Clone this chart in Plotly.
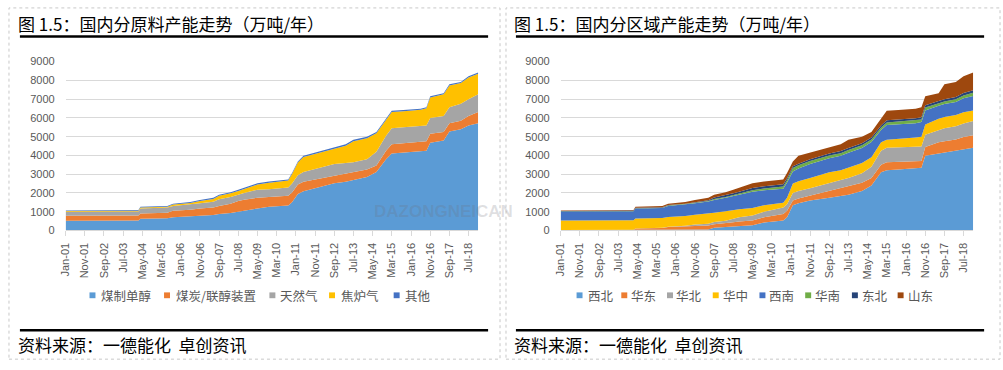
import plotly.graph_objects as go

W, H = 1003, 370

# ---------------- data ----------------
dates = ["2001-01-01", "2004-03-01", "2004-04-01", "2005-06-01", "2005-09-01", "2006-06-01",
         "2006-11-01", "2007-06-01", "2007-09-01", "2008-03-01", "2008-07-01", "2008-10-01",
         "2009-05-01", "2009-11-01", "2010-09-01", "2010-11-01", "2011-02-01", "2011-05-01",
         "2011-11-01", "2012-09-01", "2013-03-01", "2013-07-01", "2014-02-01", "2014-07-01",
         "2014-12-01", "2015-03-01", "2015-09-01", "2016-06-01", "2016-09-01", "2016-11-01",
         "2017-06-01", "2017-09-01", "2018-03-01", "2018-07-01", "2018-12-01"]

# left chart: by feedstock (万吨/年)
coal_single = [520, 530, 620, 650, 710, 740, 790, 820, 880, 930, 1000, 1080, 1170, 1260, 1330, 1500,
               1950, 2090, 2250, 2520, 2600, 2690, 2850, 3120, 3800, 4100, 4150, 4200, 4250, 4670,
               4800, 5280, 5400, 5600, 5710]
coal_joint = [270, 270, 290, 300, 340, 360, 380, 410, 430, 490, 570, 560, 570, 520, 520, 530,
              500, 510, 470, 430, 430, 430, 400, 350, 450, 500, 500, 500, 500, 480,
              450, 430, 450, 500, 600]
natural_gas = [210, 210, 260, 270, 260, 280, 280, 300, 350, 360, 340, 360, 430, 420, 440, 470,
               500, 520, 560, 600, 570, 520, 550, 730, 800, 850, 850, 850, 850, 850,
               850, 860, 900, 900, 950]
coke_gas = [40, 45, 50, 50, 70, 90, 120, 150, 190, 200, 200, 210, 280, 350, 370, 510,
            670, 800, 800, 810, 920, 1110, 1120, 980, 840, 870, 860, 880, 910, 1090,
            1160, 1160, 1110, 1160, 1100]
others = [30, 35, 40, 30, 50, 50, 50, 60, 60, 60, 60, 60, 70, 60, 60, 60,
          60, 60, 70, 70, 80, 80, 80, 70, 60, 60, 60, 60, 60, 60,
          60, 60, 60, 60, 60]
left_names = ["煤制单醇", "煤炭/联醇装置", "天然气", "焦炉气", "其他"]
left_series = [coal_single, coal_joint, natural_gas, coke_gas, others]
left_colors = ["#5B9BD5", "#ED7D31", "#A5A5A5", "#FFC000", "#4472C4"]

# right chart: by region (万吨/年)
northwest = [20, 20, 20, 20, 20, 30, 40, 50, 150, 180, 220, 250, 280, 420, 530, 700,
             1350, 1450, 1600, 1750, 1830, 1900, 2100, 2400, 3100, 3210, 3250, 3300, 3350, 3980,
             4100, 4160, 4250, 4350, 4410]
east = [0, 5, 80, 110, 160, 190, 210, 220, 180, 200, 220, 230, 250, 280, 350, 350,
        250, 250, 250, 350, 430, 450, 450, 400, 400, 430, 400, 360, 350, 470,
        600, 600, 600, 630, 660]
north = [10, 10, 10, 10, 20, 30, 70, 90, 120, 140, 180, 220, 270, 300, 340, 350,
         400, 400, 400, 450, 430, 450, 500, 600, 750, 770, 770, 780, 780, 650,
         650, 690, 700, 720, 760]
central = [500, 510, 530, 520, 520, 520, 520, 540, 500, 500, 470, 430, 400, 350, 260, 350,
           500, 520, 550, 550, 520, 550, 550, 500, 450, 430, 460, 510, 520, 550,
           600, 600, 600, 600, 570]
southwest = [480, 485, 530, 540, 590, 610, 610, 640, 680, 720, 740, 760, 870, 800, 740, 810,
             650, 680, 750, 750, 770, 800, 800, 820, 650, 780, 780, 770, 780, 750,
             700, 690, 700, 750, 770]
south = [10, 10, 15, 15, 20, 20, 25, 25, 50, 50, 60, 70, 80, 90, 120, 120,
         180, 180, 150, 150, 140, 140, 140, 130, 140, 140, 140, 130, 130, 150,
         140, 140, 150, 150, 170]
northeast = [20, 20, 25, 25, 30, 30, 35, 45, 80, 90, 100, 110, 120, 120, 130, 110,
             90, 80, 100, 100, 120, 110, 110, 100, 110, 120, 120, 130, 130, 130,
             110, 120, 120, 130, 130]
shandong = [30, 30, 50, 60, 70, 90, 110, 130, 150, 160, 180, 200, 250, 250, 250, 280,
            260, 420, 350, 330, 360, 430, 350, 300, 350, 500, 500, 510, 530, 470,
            420, 790, 800, 890, 950]
right_names = ["西北", "华东", "华北", "华中", "西南", "华南", "东北", "山东"]
right_series = [northwest, east, north, central, southwest, south, northeast, shandong]
right_colors = ["#5B9BD5", "#ED7D31", "#A5A5A5", "#FFC000", "#4472C4", "#70AD47", "#264478", "#9E480E"]

y_ticks = [0, 1000, 2000, 3000, 4000, 5000, 6000, 7000, 8000, 9000]

left_title = "图 1.5：国内分原料产能走势（万吨/年）"
right_title = "图 1.5：国内分区域产能走势（万吨/年）"
source_text = "资料来源：一德能化\u00a0\u00a0卓创资讯"

# ---------------- figure ----------------
fig = go.Figure()

for name, vals, col in zip(left_names, left_series, left_colors):
    fig.add_trace(go.Scatter(x=dates, y=vals, name=name, stackgroup="left", mode="lines",
                             line=dict(width=0, color=col), fillcolor=col,
                             xaxis="x", yaxis="y", showlegend=False))
for name, vals, col in zip(right_names, right_series, right_colors):
    fig.add_trace(go.Scatter(x=dates, y=vals, name=name, stackgroup="right", mode="lines",
                             line=dict(width=0, color=col), fillcolor=col,
                             xaxis="x2", yaxis="y2", showlegend=False))


def px_x(v):
    return v / W


def px_y(v):
    return 1 - v / H


tick_font = dict(family="Liberation Sans, Arial, sans-serif", size=11, color="#595959")
xcommon = dict(type="date", range=["2001-01-01", "2018-12-01"], tickmode="linear",
               tick0="2001-01-01", dtick="M10", tickformat="%b-%y", tickangle=-90,
               showgrid=False, showline=True, linecolor="#D9D9D9", linewidth=1,
               ticks="outside", ticklen=5, tickcolor="#D9D9D9", tickfont=tick_font,
               ticklabelstandoff=2, zeroline=False)
ycommon = dict(range=[0, 9000], tickmode="array", tickvals=y_ticks, showgrid=True,
               gridcolor="#D9D9D9", gridwidth=1, zeroline=False, showline=False,
               tickfont=tick_font, ticklabelstandoff=10)

fig.update_layout(
    width=W, height=H, margin=dict(l=0, r=0, t=0, b=0),
    paper_bgcolor="white", plot_bgcolor="white", showlegend=False,
    xaxis=dict(domain=[px_x(60), px_x(475)], anchor="y", **xcommon),
    yaxis=dict(domain=[px_y(232), px_y(57.5)], anchor="x", **ycommon),
    xaxis2=dict(domain=[px_x(558), px_x(973)], anchor="y2", **xcommon),
    yaxis2=dict(domain=[px_y(232), px_y(57.5)], anchor="x2", **ycommon),
)

shapes = []
annotations = []
cjk = "Noto Sans CJK SC, sans-serif"

# panel borders (dotted)
for x0, x1 in [(3, 497), (503, 1000)]:
    shapes.append(dict(type="rect", xref="paper", yref="paper", x0=px_x(x0), x1=px_x(x1),
                       y0=px_y(365), y1=px_y(2), line=dict(color="#C8C8C8", width=1, dash="dot")))

for x0, title in [(14, left_title), (513, right_title)]:
    x1 = x0 + 471
    annotations.append(dict(text=title, xref="paper", yref="paper", x=px_x(x0 - 4), y=px_y(18),
                            xanchor="left", yanchor="middle", showarrow=False,
                            font=dict(family=cjk, size=17, color="#000000")))
    shapes.append(dict(type="line", xref="paper", yref="paper", x0=px_x(x0), x1=px_x(x1),
                       y0=px_y(31.5), y1=px_y(31.5), line=dict(color="#000000", width=2.5)))
    shapes.append(dict(type="line", xref="paper", yref="paper", x0=px_x(x0), x1=px_x(x1),
                       y0=px_y(335), y1=px_y(335), line=dict(color="#000000", width=2.5)))
    annotations.append(dict(text=source_text, xref="paper", yref="paper", x=px_x(x0 - 4), y=px_y(350),
                            xanchor="left", yanchor="middle", showarrow=False,
                            font=dict(family=cjk, size=17, color="#000000")))

# legends (manual, to match compact Excel legend)
left_leg_sq = [87, 162, 268, 328, 393]
left_leg_tx = [94, 169, 274, 335, 399]
right_leg_sq = [577, 622, 668, 714, 761, 807, 854, 900]
right_leg_tx = [583, 627, 672, 719, 766, 812, 859, 905]
leg_y = 299
for names, cols, sqs, txs in [(left_names, left_colors, left_leg_sq, left_leg_tx),
                              (right_names, right_colors, right_leg_sq, right_leg_tx)]:
    for n, c, sx, tx in zip(names, cols, sqs, txs):
        shapes.append(dict(type="rect", xref="paper", yref="paper",
                           x0=px_x(sx - 3), x1=px_x(sx + 3), y0=px_y(leg_y + 3), y1=px_y(leg_y - 3),
                           fillcolor=c, line=dict(width=0)))
        annotations.append(dict(text=n, xref="paper", yref="paper", x=px_x(tx), y=px_y(leg_y),
                                xanchor="left", yanchor="middle", showarrow=False,
                                font=dict(family=cjk, size=12.5, color="#595959")))

# faint watermark text
annotations.append(dict(text="<b>DAZONGNEICAN</b>", xref="paper", yref="paper", x=px_x(440), y=px_y(212),
                        xanchor="center", yanchor="middle", showarrow=False,
                        font=dict(family="Liberation Sans, Arial, sans-serif", size=17,
                                  color="rgba(110,110,120,0.22)")))

fig.update_layout(shapes=shapes, annotations=annotations)
fig.write_html("out.html", config={"displayModeBar": False},
               post_script="document.body.style.margin='0';document.body.style.overflow='hidden';")
